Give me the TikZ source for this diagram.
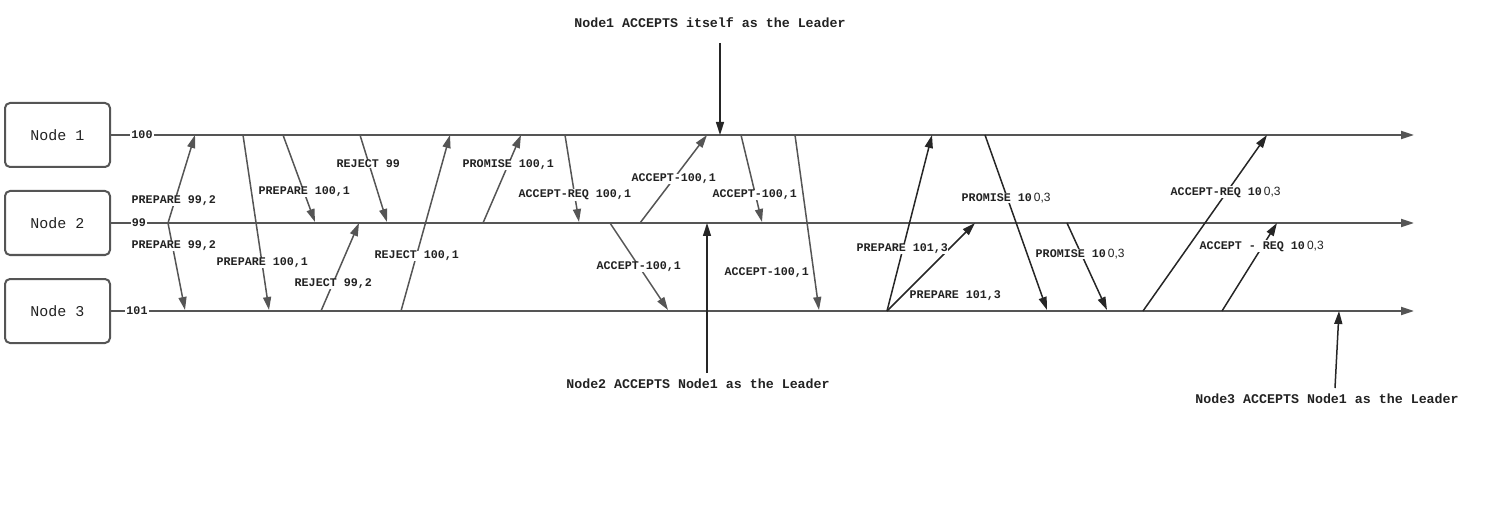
\documentclass[tikz,border=0pt]{standalone}
\usepackage{fontspec}
\setmainfont{Liberation Sans}
\setmonofont{Liberation Mono}
\newfontfamily\lsans{Liberation Sans}
\usetikzlibrary{arrows.meta}
\definecolor{lineg}{HTML}{555555}
\definecolor{txt}{HTML}{222222}
\tikzset{
  box/.style={draw=lineg, line width=2pt, rounded corners=5pt, minimum width=105pt, minimum height=64pt, font=\ttfamily\fontsize{15}{17}\selectfont, text=txt},
  tl/.style={draw=lineg, line width=2pt, -{Triangle[length=13pt,width=8pt]}},
  tlab/.style={fill=white, inner sep=1pt, font=\ttfamily\bfseries\fontsize{11.7}{13}\selectfont, text=txt},
  msg/.style={draw=lineg, line width=1.5pt, -{Triangle[length=13pt,width=8pt]}},
  msgk/.style={draw=black!85, line width=1.5pt, -{Triangle[length=13pt,width=8pt]}},
  lab/.style={anchor=west, fill=white, inner sep=0.5pt, font=\ttfamily\bfseries\fontsize{11.7}{13}\selectfont, text=txt},
  ann/.style={font=\ttfamily\bfseries\fontsize{13.3}{15}\selectfont, text=txt, inner sep=1pt},
  annarr/.style={draw=black!85, line width=1.5pt, -{Triangle[length=13pt,width=8pt]}}
}
\newcommand{\sfn}[1]{\hspace{2pt}{\lsans\mdseries\fontsize{12}{13}\selectfont #1}}
\begin{document}
\begin{tikzpicture}[x=1pt,y=-1pt]
\useasboundingbox (0,0) rectangle (1494,513);
% boxes
\node[box] (n1) at (57.5,135) {Node 1};
\node[box] (n2) at (57.5,223) {Node 2};
\node[box] (n3) at (57.5,311) {Node 3};
% timeline ends
\coordinate (e1) at (1414,135);
\coordinate (e2) at (1414,223);
\coordinate (e3) at (1414,311);
\draw[tl] (n1.east) -- (e1);
\draw[tl] (n2.east) -- (e2);
\draw[tl] (n3.east) -- (e3);
\node[tlab] (t1) at (142,135) {100};
\node[tlab] (t2) at (139,223) {99};
\node[tlab] (t3) at (137,311) {101};
% endpoints
\coordinate (a1) at (168,223); \coordinate (a1t) at (195,135);
\coordinate (a2t) at (185,310);
\coordinate (b1) at (243,135); \coordinate (b1t) at (269,310);
\coordinate (b2) at (283,135); \coordinate (b2t) at (315,222);
\coordinate (c1) at (360,135); \coordinate (c1t) at (387,222);
\coordinate (c2) at (321,311); \coordinate (c2t) at (359,223);
\coordinate (c3) at (401,311); \coordinate (c3t) at (450,135);
\coordinate (d1) at (483,223); \coordinate (d1t) at (521,135);
\coordinate (d2) at (565,135); \coordinate (d2t) at (579,222);
\coordinate (d3) at (640,223); \coordinate (d3t) at (707,135);
\coordinate (d4) at (610,223); \coordinate (d4t) at (668,310);
\coordinate (f1) at (741,135); \coordinate (f1t) at (762,222);
\coordinate (f2) at (795,135); \coordinate (f2t) at (819,310);
\coordinate (g0) at (887,311); \coordinate (g1t) at (932,135);
\coordinate (g2t) at (975,223);
\coordinate (h1) at (985,135); \coordinate (h1t) at (1047,310);
\coordinate (h2) at (1067,223); \coordinate (h2t) at (1107,310);
\coordinate (k1) at (1143,311); \coordinate (k1t) at (1267,135);
\coordinate (k2) at (1222,311); \coordinate (k2t) at (1277,223);
% messages
\draw[msg] (a1) -- (a1t);
\draw[msg] (a1) -- (a2t);
\draw[msg] (b1) -- (b1t);
\draw[msg] (b2) -- (b2t);
\draw[msg] (c1) -- (c1t);
\draw[msg] (c2) -- (c2t);
\draw[msg] (c3) -- (c3t);
\draw[msg] (d1) -- (d1t);
\draw[msg] (d2) -- (d2t);
\draw[msg] (d3) -- (d3t);
\draw[msg] (d4) -- (d4t);
\draw[msg] (f1) -- (f1t);
\draw[msg] (f2) -- (f2t);
\draw[msgk] (g0) -- (g1t);
\draw[msgk] (g0) -- (g2t);
\draw[msgk] (h1) -- (h1t);
\draw[msgk] (h2) -- (h2t);
\draw[msgk] (k1) -- (k1t);
\draw[msgk] (k2) -- (k2t);
% labels
\node[lab] (l1) at (131,201) {PREPARE 99,2};
\node[lab] (l2) at (131,246) {PREPARE 99,2};
\node[lab] (l3) at (216,263) {PREPARE 100,1};
\node[lab] (l4) at (258,192) {PREPARE 100,1};
\node[lab] (l5) at (336,164) {REJECT 99};
\node[lab] (l6) at (294,284) {REJECT 99,2};
\node[lab] (l7) at (374,256) {REJECT 100,1};
\node[lab] (l8) at (462,165) {PROMISE 100,1};
\node[lab] (l9) at (518,195) {ACCEPT-REQ 100,1};
\node[lab] (l10) at (631,179) {ACCEPT-100,1};
\node[lab] (l11) at (596,267) {ACCEPT-100,1};
\node[lab] (l12) at (712,195) {ACCEPT-100,1};
\node[lab] (l13) at (724,273) {ACCEPT-100,1};
\node[lab] (l14) at (856,249) {PREPARE 101,3};
\node[lab] (l15) at (909,296) {PREPARE 101,3};
\node[lab] (l16) at (961,198) {PROMISE 10\sfn{0,3}};
\node[lab] (l17) at (1035,254) {PROMISE 10\sfn{0,3}};
\node[lab] (l18) at (1170,192) {ACCEPT-REQ 10\sfn{0,3}};
\node[lab] (l19) at (1199,246) {ACCEPT - REQ 10\sfn{0,3}};
% annotations
\node[ann] (top) at (710,23) {Node1 ACCEPTS itself as the Leader};
\coordinate (topt) at (720,135);
\draw[annarr] (720,43) -- (topt);
\node[ann] (bot2) at (698,384) {Node2 ACCEPTS Node1 as the Leader};
\coordinate (bot2t) at (707,223);
\draw[annarr] (707,373) -- (bot2t);
\node[ann] (bot3) at (1327,399) {Node3 ACCEPTS Node1 as the Leader};
\coordinate (bot3t) at (1339,311);
\draw[annarr] (1335,388) -- (bot3t);
\end{tikzpicture}
\end{document}
